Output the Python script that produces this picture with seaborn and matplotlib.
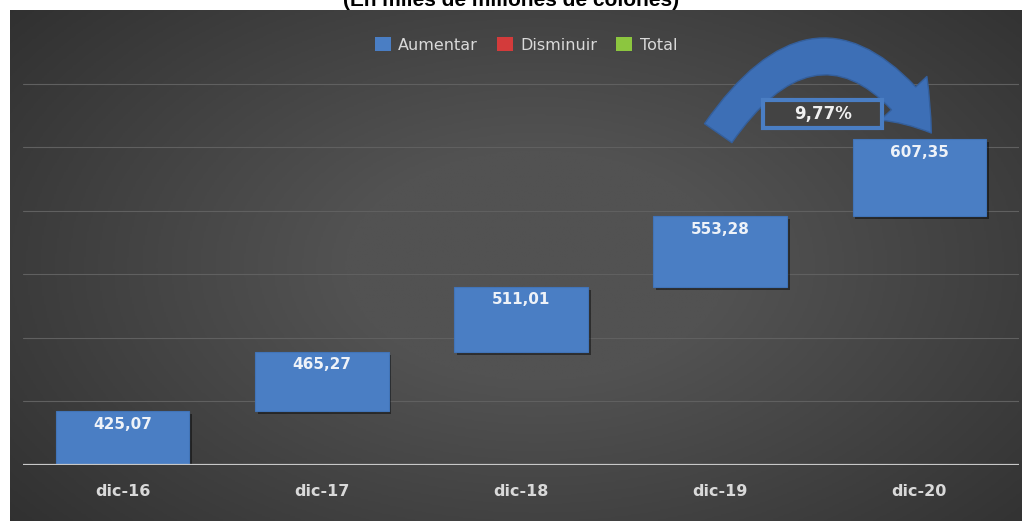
import numpy as np
import pandas as pd
import matplotlib
matplotlib.use("Agg")
import matplotlib.pyplot as plt
import matplotlib.patheffects as pe
import seaborn as sns
from matplotlib.patches import Patch, Rectangle, FancyArrowPatch

# ---------- data ----------
periodos = ["dic-16", "dic-17", "dic-18", "dic-19", "dic-20"]
valores = [425.07, 465.27, 511.01, 553.28, 607.35]
leyenda = ["Aumentar", "Disminuir", "Total"]
titulo = "(En miles de millones de colones)"

df = pd.DataFrame({"periodo": periodos, "valor": valores})
df["base"] = df["valor"].cumsum() - df["valor"]   # waterfall: each bar starts where the previous ended
variacion = valores[-1] / valores[-2] - 1

fmt = lambda v: f"{v:.2f}".replace(".", ",")

# ---------- style ----------
sns.set_theme(style="white")
plt.rcParams["font.family"] = ["DejaVu Sans"]

AZUL = "#4a7ec4"
ROJO = "#d33b3b"
VERDE = "#8cc63f"
TEXTO = "#d9d9d9"

fig = plt.figure(figsize=(10.22, 5.21), dpi=100)
fig.patch.set_facecolor("white")

# dark radial gradient panel
bg = fig.add_axes([10 / 1022, 0, 1012 / 1022, 511 / 521], zorder=-10)
yy, xx = np.mgrid[0:1:300j, 0:1:600j]
r = np.sqrt(((xx - 0.52) / 0.75) ** 2 + ((yy - 0.5) / 0.9) ** 2)
grad = np.clip(1 - r, 0, 1)
bg.imshow(grad, cmap=matplotlib.colors.LinearSegmentedColormap.from_list("g", ["#2b2b2b", "#525252"]),
          aspect="auto", extent=[0, 1, 0, 1], vmin=0, vmax=0.75)
bg.axis("off")

ax = fig.add_axes([23 / 1022, 56 / 521, 996 / 1022, 445 / 521])
ax.set_facecolor("none")

sns.barplot(data=df, x="periodo", y="valor", color=AZUL, saturation=1, width=0.67,
            edgecolor="#4174b8", linewidth=0.8, ax=ax, zorder=3)
sombra = [pe.SimplePatchShadow(offset=(2, -2), shadow_rgbFace="black", alpha=0.45), pe.Normal()]
for patch, b in zip(ax.patches, df["base"]):
    patch.set_y(b)
    patch.set_path_effects(sombra)

for i, (v, b) in enumerate(zip(df["valor"], df["base"])):
    ax.annotate(fmt(v), (i, b + v), xytext=(0, -4), textcoords="offset points",
                ha="center", va="top", color="#eef2f8", fontsize=11, fontweight="bold", zorder=5)

ax.set_xlim(-0.5, 4.5)
ax.set_ylim(0, 3500)
for yv in range(500, 3500, 500):
    ax.axhline(yv, color="#606060", lw=0.8, zorder=1)
ax.axhline(0, color="#c8c8c8", lw=1.6, zorder=4)

for s in ax.spines.values():
    s.set_visible(False)
ax.set_yticks([])
ax.set_xlabel("")
ax.set_ylabel("")
ax.tick_params(axis="x", length=0, pad=14)
for lbl in ax.get_xticklabels():
    lbl.set_color(TEXTO)
    lbl.set_fontweight("bold")
    lbl.set_fontsize(11.5)

handles = [Patch(facecolor=c, edgecolor="none") for c in (AZUL, ROJO, VERDE)]
leg = ax.legend(handles, leyenda, loc="center", bbox_to_anchor=(0.505, 0.944), ncol=3,
                frameon=False, handlelength=1.0, handleheight=1.0, handletextpad=0.45,
                columnspacing=1.2, fontsize=11.5)
for t in leg.get_texts():
    t.set_color(TEXTO)

# curved growth arrow
arrow = FancyArrowPatch((2.99, 2610), (4.06, 2611), connectionstyle="arc3,rad=-0.72",
                        arrowstyle="simple,head_width=2.3,head_length=1.6,tail_width=1.2",
                        mutation_scale=20, shrinkA=0, shrinkB=0,
                        facecolor="#3d6fb6", edgecolor="#345f9c", lw=1, zorder=6)
ax.add_patch(arrow)

ax.add_patch(Rectangle((3.217, 2651), 0.594, 221, facecolor="#434343", edgecolor=AZUL,
                       lw=3, zorder=7))
ax.text(3.514, 2762, f"{variacion * 100:.2f}%".replace(".", ","), ha="center", va="center",
        color="#f0f0f0", fontsize=12, fontweight="bold", zorder=8)

fig.text(0.5, 1.0, titulo, ha="center", va="center", fontsize=15, fontweight="bold",
         color="black", family=["Liberation Sans", "DejaVu Sans"])

fig.savefig("out.png", dpi=100)
